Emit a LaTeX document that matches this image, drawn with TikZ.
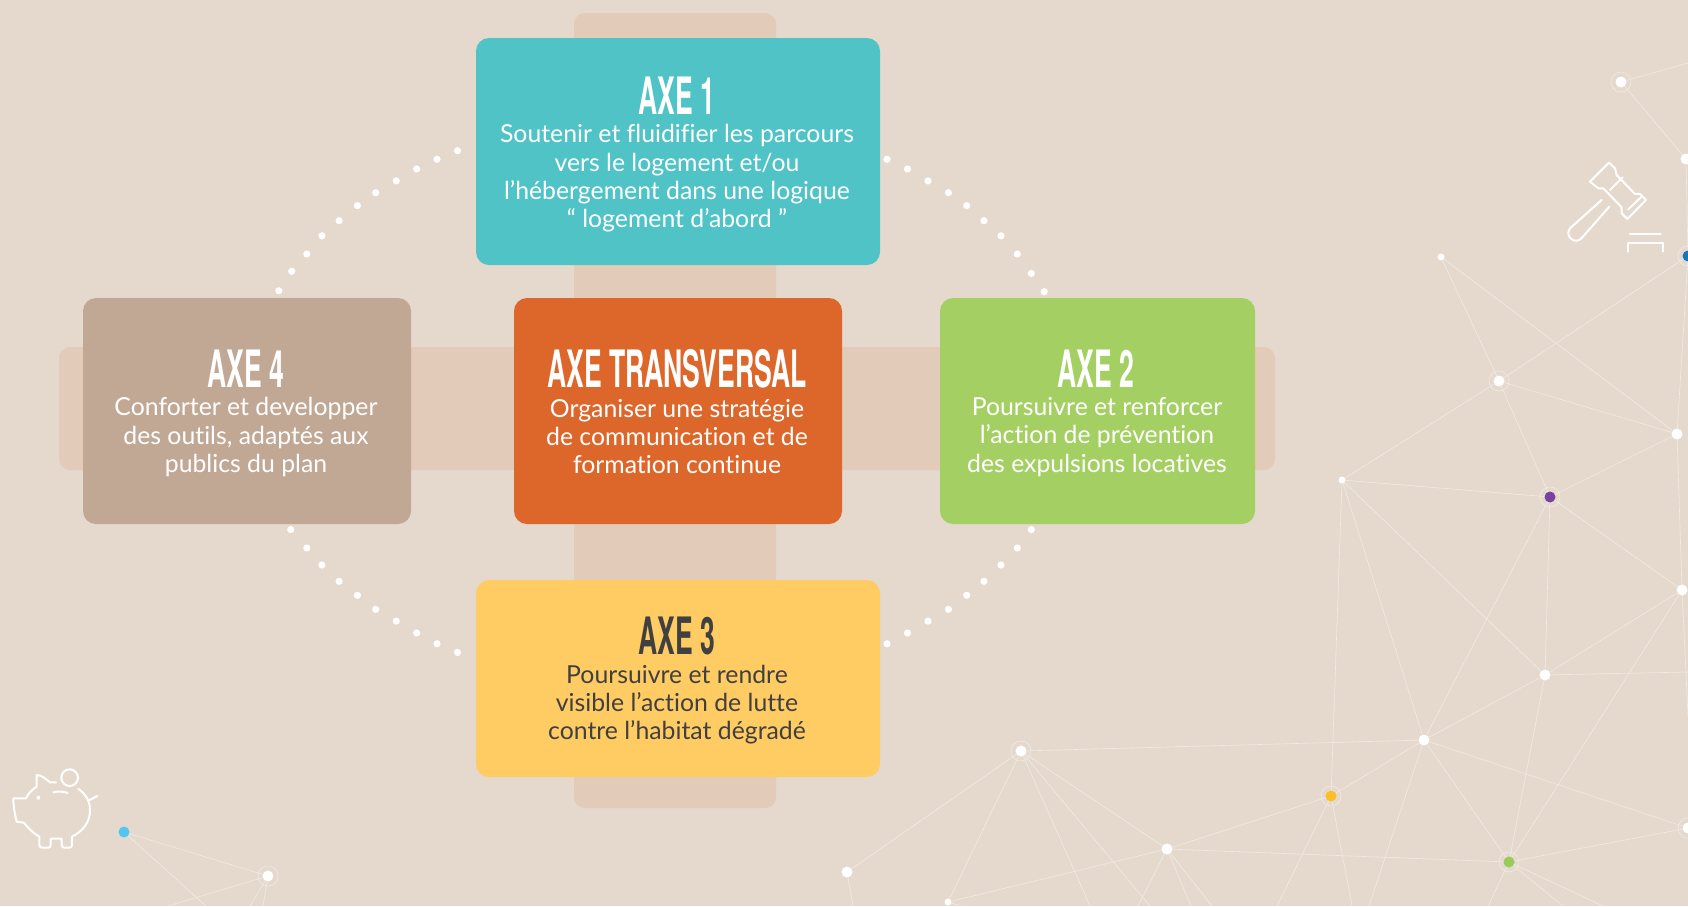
\documentclass[tikz,border=0pt]{standalone}
\usepackage{fontspec}
\setmainfont{Lato}[Ligatures=NoCommon]
\newfontfamily\axefont[FakeStretch=.515]{TeX Gyre Heros}
\definecolor{fond}{HTML}{E5D9CD}
\definecolor{bande}{HTML}{E2CBB9}
\definecolor{turquoise}{HTML}{50C3C6}
\definecolor{orange}{HTML}{DD672B}
\definecolor{vert}{HTML}{A4D063}
\definecolor{taupe}{HTML}{C1A895}
\definecolor{jaune}{HTML}{FFCB63}
\definecolor{sombre}{HTML}{404040}
\definecolor{trait}{HTML}{F1EBE5}
\definecolor{violet}{HTML}{7B3F9C}
\definecolor{bleu}{HTML}{1279BE}
\definecolor{ciel}{HTML}{52C5F2}
\definecolor{ambre}{HTML}{FBBF24}
\definecolor{herbe}{HTML}{9BCB57}
\tikzset{
 axebox/.style={rectangle,rounded corners=13pt,inner sep=0pt},
 axetitle/.style={inner sep=0pt,font=\axefont\bfseries\fontsize{51.5}{52}\selectfont},
 axetext/.style={inner sep=0pt,align=center,font=\fontsize{24.8}{28.3}\selectfont},
 hub/.style={circle,fill=white,inner sep=0pt,minimum size=11pt},
 petit/.style={circle,fill=white,inner sep=0pt,minimum size=7pt},
 netline/.style={draw=trait,line width=.6pt},
 halo/.style={draw=trait,line width=.6pt},
 icone/.style={draw=white,line width=2pt,line join=round,line cap=round}
}
\begin{document}
\begin{tikzpicture}[x=1pt,y=-1pt]
\useasboundingbox (0,0) rectangle (1688,906);
\clip (0,0) rectangle (1688,906);
\fill[fond] (0,0) rectangle (1688,906);

% reseau
\foreach \n/\x/\y in {nA/1621/82,nB/1686/159,nF/1677/434,nI/1682/590,nJ/1545/675,nK/1424/740,nA3/1021/751,nB3/1167/849,nC3/847/872,nE4/268/876,nE/1499/381,nN/1688/828}
\node[hub] (\n) at (\x,\y) {};
\foreach \n/\x/\y in {nG/1342/480,nD/1441/257,nD3/948/902}
\node[petit] (\n) at (\x,\y) {};
\node[hub,fill=bleu] (nC) at (1688,256) {};
\node[hub,fill=violet] (nH) at (1550,497) {};
\node[hub,fill=ambre] (nL) at (1331,796) {};
\node[hub,fill=herbe] (nM) at (1509,862) {};
\node[hub,fill=ciel] (nB4) at (124,832) {};

\foreach \c/\x/\y in {cA/1688/63,cB/1688/716,cC/1688/672,cD/1369/906,cE/1277/906,cF/1352/906,cG/1488/906,cH/1563/906,cI/1603/906,cJ/1090/906,cK/1150/906,cL/1138/906,cM/1191/906,cO/1212/906,cP/853/906,cQ/961/906,cR/206/906,cS/168/906,cT/250/906,cU/263/906}
\coordinate (\c) at (\x,\y);

\foreach \a/\b in {nA/cA,nA/nB,nB/nC,nC/nF,nD/nE,nD/nF,nC/nE,nE/nF,nE/nG,nE/nH,nF/nH,nF/nI,nI/cB,nH/nI,nI/nJ,nI/nM,nJ/cC,nJ/nM,nJ/nK,nJ/nH,nJ/nG,nK/nG,nK/nH,nG/nH,nG/nL,nK/nL,nK/nA3,nK/nM,nK/nN,nK/cD,nL/nB3,nL/cE,nL/cF,nB3/nM,nM/nN,nM/cG,nM/cH,nM/cI,nA3/nB3,nA3/nC3,nA3/nD3,nA3/cJ,nA3/cK,nB3/nD3,nB3/cL,nB3/cM,nB3/cO,nC3/cP,nD3/cQ,nB4/nE4,nB4/cR,nE4/cS,nE4/cT,nE4/cU}
\draw[netline] (\a)--(\b);

\foreach \n in {nA,nC,nE,nH,nL,nM,nN,nA3,nE4}
\draw[halo] (\n) circle (10);

% bandes
\fill[bande,rounded corners=11pt] (574,13) rectangle (776,808);
\fill[bande,rounded corners=11pt] (59,347) rectangle (1275,470);

% pointilles
\foreach \x/\y in {457.5/150.7,437/159.3,416.6/169,396.2/180.9,375.7/192.7,357.4/205.6,339.1/220.7,321.9/235.8,306.8/254,291.7/271.3,278.8/290.7,
887/159.3,907.5/169,928/180.9,948.4/192.7,966.7/205.6,983.9/220.7,1001/235.8,1017.3/254,1031.3/273.4,1044.2/291.7,
1031.3/529.6,1017.3/548,1001/565,983.9/581.3,966.7/595.3,948.4/609.3,928/621.1,907.5/633,887/643.8,
290.7/529.6,306.8/548,321.9/565,339.1/581.3,357.4/595.3,375.7/609.3,396.2/621.1,416.6/633,437/643.8,457.5/652.4}
\fill[white] (\x,\y) circle (3.6);

% axes
\node[axebox,fill=turquoise,minimum width=404pt,minimum height=227pt] (axeun) at (678,151.5) {};
\node[axebox,fill=orange,minimum width=328pt,minimum height=226pt] (axetrans) at (678,411) {};
\node[axebox,fill=vert,minimum width=315pt,minimum height=226pt] (axedeux) at (1097.5,411) {};
\node[axebox,fill=taupe,minimum width=328pt,minimum height=226pt] (axequatre) at (247,411) {};
\node[axebox,fill=jaune,minimum width=404pt,minimum height=197pt] (axetrois) at (678,678.5) {};

\node[axetitle,white] (titreun) at (677,96) {AXE 1};
\node[axetitle,white] (titretrans) at (677,369) {AXE TRANSVERSAL};
\node[axetitle,white] (titredeux) at (1096,369) {AXE 2};
\node[axetitle,white] (titrequatre) at (246,369) {AXE 4};
\node[axetitle,sombre] (titretrois) at (677,636) {AXE 3};

\node[axetext,white] (texteun) at (677,178.5) {Soutenir et fluidifier les parcours\\vers le logement et/ou\\l’hébergement dans une logique\\“ logement d’abord ”};
\node[axetext,white] (textetrans) at (677,436.5) {Organiser une stratégie\\de communication et de\\formation continue};
\node[axetext,white] (textedeux) at (1097,437) {Poursuivre et renforcer\\l’action de prévention\\des expulsions locatives};
\node[axetext,white] (textequatre) at (246,437) {Conforter et developper\\des outils, adaptés aux\\publics du plan};
\node[axetext,sombre] (textetrois) at (677,704.5) {Poursuivre et rendre\\visible l’action de lutte\\contre l’habitat dégradé};

% marteau
\begin{scope}[shift={(1300,0)},x=.3333pt,y=-.3333pt]
\draw[icone] (927,488)--(870,545)--(895,565)--(910,565)--(965,622)--(965,640)--(982,657)--(1038,600)--(1020,582)--(1005,582)--(950,525)--(945,505)--cycle;
\draw[icone] (968,532)--(930,570);
\draw[icone] (1025,590)--(985,628);
\draw[icone] (905,600)--(812,683) .. controls (790,705) and (825,740) .. (847,712)--(928,620);
\draw[icone] (990,703)--(1082,703);
\draw[icone] (985,755)--(985,728)--(1090,728)--(1090,755);
\end{scope}

% tirelire
\begin{scope}[shift={(0,740)},x=.3333pt,y=-.3333pt]
\draw[icone] (168,127)--(150,127) .. controls (135,115) and (125,105) .. (110,105)--(110,140) .. controls (95,150) and (85,160) .. (78,175)--(40,175) .. controls (40,200) and (45,225) .. (50,245)--(72,248) .. controls (85,265) and (100,280) .. (118,290)--(118,315) .. controls (118,322) and (122,323) .. (128,323)--(145,323) .. controls (150,323) and (152,320) .. (152,315)--(152,296)--(185,296)--(185,315) .. controls (185,322) and (190,323) .. (195,323)--(208,323) .. controls (214,323) and (216,320) .. (216,315)--(216,290) .. controls (255,270) and (272,240) .. (270,205) .. controls (268,180) and (255,160) .. (235,147);
\draw[icone] (209,113) circle (25);
\draw[icone] (160,157) .. controls (175,153) and (190,154) .. (203,159);
\fill[white] (115,173) circle (6);
\draw[icone] (265,182)--(292,168);
\end{scope}
\end{tikzpicture}
\end{document}
